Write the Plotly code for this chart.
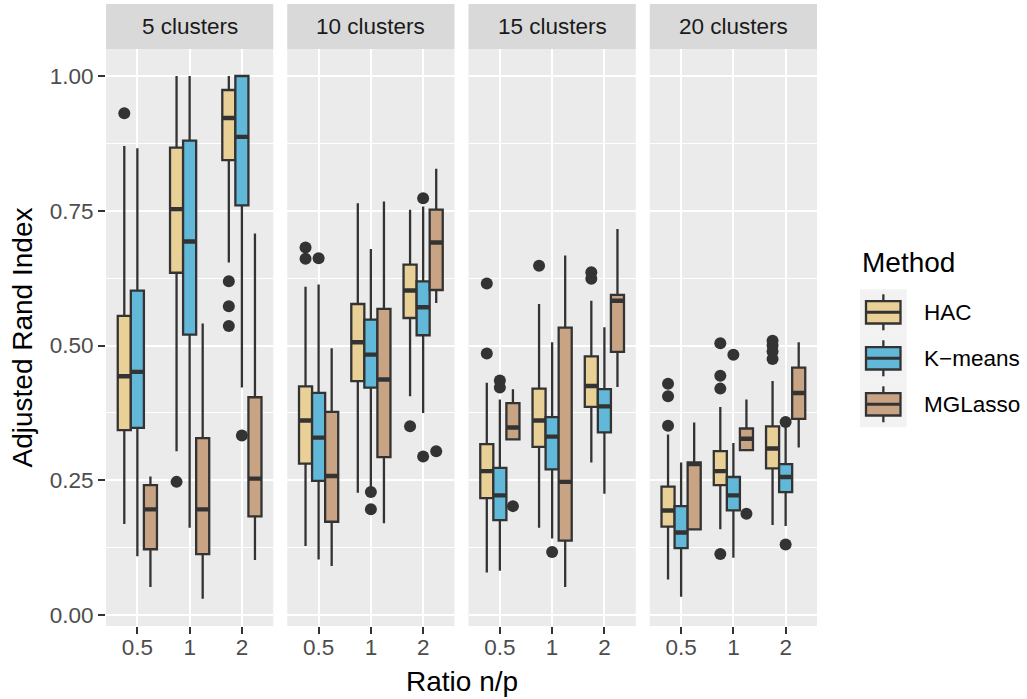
import plotly.graph_objects as go
from plotly.subplots import make_subplots

# ---------------- data ----------------
facets = ["5 clusters", "10 clusters", "15 clusters", "20 clusters"]
ratios = ["0.5", "1", "2"]
methods = ["HAC", "K\u2212means", "MGLasso"]
colors = ["#E8D096", "#62B8D8", "#C8A485"]

# each list: [facet][ratio]
hac_low = [[0.169, 0.304, 0.654], [0.128, 0.227, 0.406], [0.079, 0.162, 0.283], [0.066, 0.159, 0.167]]
hac_q1 = [[0.343, 0.635, 0.844], [0.281, 0.434, 0.551], [0.217, 0.312, 0.386], [0.164, 0.241, 0.272]]
hac_med = [[0.443, 0.753, 0.922], [0.361, 0.506, 0.602], [0.267, 0.361, 0.425], [0.194, 0.267, 0.309]]
hac_q3 = [[0.555, 0.867, 0.974], [0.424, 0.577, 0.650], [0.317, 0.420, 0.480], [0.238, 0.304, 0.350]]
hac_high = [[0.870, 1.000, 1.000], [0.609, 0.764, 0.752], [0.431, 0.577, 0.583], [0.335, 0.386, 0.434]]
hac_out = [[[0.931], [0.247], [0.619, 0.573, 0.536]],
           [[0.682, 0.661], [], [0.350]],
           [[0.615, 0.485], [0.648], [0.636, 0.624]],
           [[0.429, 0.406, 0.351], [0.504, 0.444, 0.420, 0.113], [0.509, 0.500, 0.489, 0.475]]]

km_low = [[0.109, 0.162, 0.422], [0.103, 0.238, 0.375], [0.082, 0.142, 0.225], [0.034, 0.106, 0.165]]
km_q1 = [[0.347, 0.520, 0.760], [0.249, 0.422, 0.519], [0.176, 0.270, 0.339], [0.124, 0.194, 0.228]]
km_med = [[0.451, 0.693, 0.887], [0.329, 0.483, 0.571], [0.222, 0.331, 0.387], [0.153, 0.222, 0.256]]
km_q3 = [[0.602, 0.880, 1.000], [0.412, 0.548, 0.619], [0.273, 0.367, 0.419], [0.202, 0.256, 0.280]]
km_high = [[0.866, 1.000, 1.000], [0.613, 0.679, 0.758], [0.400, 0.506, 0.534], [0.283, 0.319, 0.349]]
km_out = [[[], [], [0.333]],
          [[0.662], [0.228, 0.196], [0.773, 0.294]],
          [[0.435, 0.422], [0.117], []],
          [[], [0.483], [0.358, 0.131]]]

mg_low = [[0.052, 0.030, 0.102], [0.091, 0.170, 0.579], [0.325, 0.052, 0.423], [0.157, 0.306, 0.311]]
mg_q1 = [[0.122, 0.113, 0.183], [0.173, 0.293, 0.603], [0.326, 0.138, 0.488], [0.159, 0.306, 0.364]]
mg_med = [[0.196, 0.196, 0.253], [0.258, 0.437, 0.691], [0.348, 0.247, 0.583], [0.280, 0.327, 0.412]]
mg_q3 = [[0.241, 0.328, 0.404], [0.377, 0.568, 0.752], [0.393, 0.533, 0.594], [0.283, 0.346, 0.459]]
mg_high = [[0.257, 0.541, 0.708], [0.495, 0.767, 0.828], [0.419, 0.667, 0.716], [0.357, 0.400, 0.506]]
mg_out = [[[], [], []],
          [[], [], [0.304]],
          [[0.202], [], []],
          [[], [0.188], []]]

y_ticks = [0, 0.25, 0.5, 0.75, 1.0]
y_ticktext = ["0.00", "0.25", "0.50", "0.75", "1.00"]

# ---------------- styling ----------------
FONT = "Liberation Sans, Arial, sans-serif"
W, H = 1027, 699
L, R, T, B = 106, 210, 49, 73
PW, PH = W - L - R, H - T - B
GAP = 14
DARK = "#333333"
BOX_W = 0.25

stats = [
    (hac_low, hac_q1, hac_med, hac_q3, hac_high, hac_out),
    (km_low, km_q1, km_med, km_q3, km_high, km_out),
    (mg_low, mg_q1, mg_med, mg_q3, mg_high, mg_out),
]

fig = make_subplots(rows=1, cols=4, shared_yaxes=True, horizontal_spacing=GAP / PW)

for fi in range(len(facets)):
    col = fi + 1
    for mi, (lo, q1, md, q3, hi, out) in enumerate(stats):
        dodge = (mi - 1) * BOX_W
        xs = [ri + dodge for ri in range(len(ratios))]
        fig.add_trace(go.Box(
            x=xs, q1=q1[fi], median=md[fi], q3=q3[fi],
            lowerfence=lo[fi], upperfence=hi[fi],
            width=BOX_W, whiskerwidth=0, boxpoints=False,
            fillcolor=colors[mi], line=dict(color=DARK, width=2.3),
            name=methods[mi], showlegend=False, hoverinfo="skip"),
            row=1, col=col)
        # thicker median bar (ggplot style)
        fig.add_trace(go.Box(
            x=xs, q1=md[fi], median=md[fi], q3=md[fi],
            lowerfence=md[fi], upperfence=md[fi],
            width=BOX_W, whiskerwidth=0, boxpoints=False,
            fillcolor="rgba(0,0,0,0)", line=dict(color=DARK, width=4.4),
            showlegend=False, hoverinfo="skip"),
            row=1, col=col)
        ox, oy = [], []
        for ri in range(len(ratios)):
            for v in out[fi][ri]:
                ox.append(ri + dodge)
                oy.append(v)
        if ox:
            fig.add_trace(go.Scatter(
                x=ox, y=oy, mode="markers",
                marker=dict(color=DARK, size=12, line=dict(width=0)),
                showlegend=False, hoverinfo="skip"),
                row=1, col=col)

fig.update_xaxes(
    range=[-0.6, 2.6], tickmode="array", tickvals=[0, 1, 2], ticktext=ratios,
    showgrid=True, gridcolor="white", gridwidth=2.4, zeroline=False,
    ticks="outside", ticklen=7, tickwidth=2, tickcolor=DARK, ticklabelstandoff=-6,
    tickfont=dict(family=FONT, size=22.5, color="#4D4D4D"), showline=False)

fig.update_yaxes(
    range=[-0.0204, 1.0501], tickmode="array", tickvals=y_ticks, ticktext=y_ticktext,
    showgrid=True, gridcolor="white", gridwidth=2.4, zeroline=False,
    minor=dict(tickmode="array", tickvals=[0.125, 0.375, 0.625, 0.875],
               showgrid=True, gridcolor="white", gridwidth=1.2),
    ticks="", showline=False,
    tickfont=dict(family=FONT, size=22.5, color="#4D4D4D"))
fig.update_yaxes(ticks="outside", ticklen=7, tickwidth=2, tickcolor=DARK, row=1, col=1)

def px(x):
    return (x - L) / PW

def py(y):
    return (H - B - y) / PH

shapes = []
annotations = []
strip_top = 4
for fi, name in enumerate(facets):
    xr = "x domain" if fi == 0 else f"x{fi + 1} domain"
    shapes.append(dict(type="rect", xref=xr, yref="paper", x0=0, x1=1,
                       y0=1, y1=py(strip_top), fillcolor="#D9D9D9", line=dict(width=0),
                       layer="below"))
    annotations.append(dict(text=name, xref=xr, yref="paper", x=0.5,
                            y=py((strip_top + T) / 2), showarrow=False,
                            xanchor="center", yanchor="middle",
                            font=dict(family=FONT, size=22.5, color="#1A1A1A")))

# axis titles
annotations.append(dict(text="Adjusted Rand Index", xref="paper", yref="paper",
                        x=px(22), y=py((T + H - B) / 2), textangle=-90, showarrow=False,
                        xanchor="center", yanchor="middle",
                        font=dict(family=FONT, size=28, color="black")))
annotations.append(dict(text="Ratio n/p", xref="paper", yref="paper",
                        x=px((L + W - R) / 2), y=py(681), showarrow=False,
                        xanchor="center", yanchor="middle",
                        font=dict(family=FONT, size=28, color="black")))

# legend (drawn manually in ggplot style)
annotations.append(dict(text="Method", xref="paper", yref="paper",
                        x=px(860), y=py(262), showarrow=False,
                        xanchor="left", yanchor="middle",
                        font=dict(family=FONT, size=28, color="black")))
key_x0, key_x1 = 860, 906.7
row_h = 46
row0 = 289.3
for mi, m in enumerate(methods):
    top = row0 + mi * row_h
    cy = top + row_h / 2
    cx = (key_x0 + key_x1) / 2
    shapes.append(dict(type="rect", xref="paper", yref="paper",
                       x0=px(key_x0), x1=px(key_x1), y0=py(top + row_h), y1=py(top),
                       fillcolor="#F2F2F2", line=dict(width=0)))
    shapes.append(dict(type="line", xref="paper", yref="paper",
                       x0=px(cx), x1=px(cx), y0=py(top + 5), y1=py(top + 41),
                       line=dict(color=DARK, width=2.3)))
    shapes.append(dict(type="rect", xref="paper", yref="paper",
                       x0=px(866), x1=px(900.5), y0=py(cy + 11.2), y1=py(cy - 11.2),
                       fillcolor=colors[mi], line=dict(color=DARK, width=2.3)))
    shapes.append(dict(type="line", xref="paper", yref="paper",
                       x0=px(866), x1=px(900.5), y0=py(cy), y1=py(cy),
                       line=dict(color=DARK, width=3)))
    annotations.append(dict(text=m, xref="paper", yref="paper",
                            x=px(921.7), y=py(cy), showarrow=False,
                            xanchor="left", yanchor="middle",
                            font=dict(family=FONT, size=22.5, color="black")))

fig.update_layout(
    width=W, height=H,
    margin=dict(l=L, r=R, t=T, b=B, pad=0),
    paper_bgcolor="white", plot_bgcolor="#EBEBEB",
    boxmode="overlay", showlegend=False,
    font=dict(family=FONT, color="black"),
    shapes=shapes, annotations=annotations)

fig.write_html("out.html")
